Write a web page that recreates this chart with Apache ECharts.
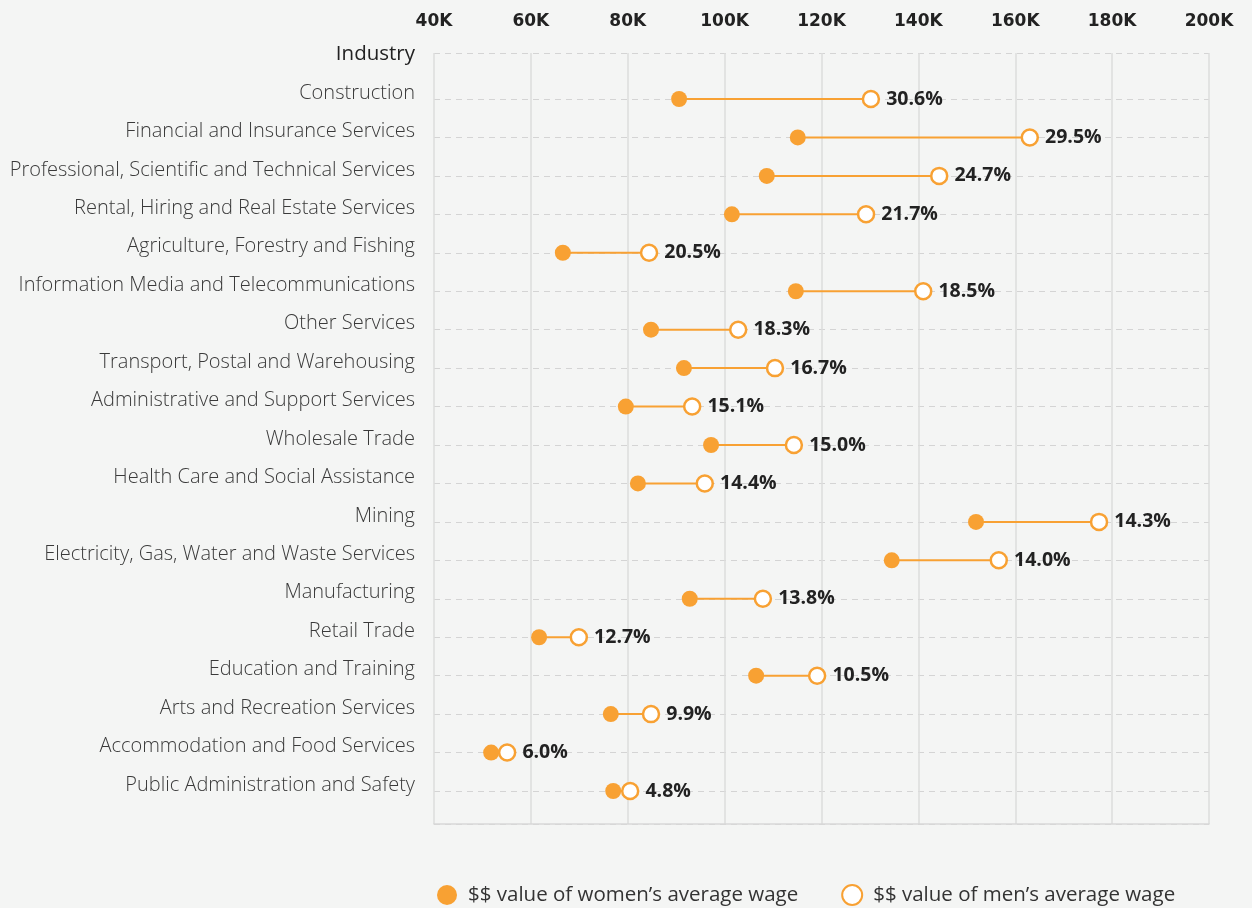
<!DOCTYPE html>
<html>
	<head>
		<meta charset="utf-8" />
		<title>Gender pay gap by industry</title>
		<style type="text/css">
			html, body {margin:0;padding:0;background:#f4f5f4;}
			#chart {width:1252px;height:908px;}
		</style>
	</head>
	<body>
		<div id="chart"></div>
		<script src="https://cdn.jsdelivr.net/npm/echarts@6/dist/echarts.min.js"></script>
		<script type="text/javascript">
			// categories, top to bottom
			const industries = [
				'Construction',
				'Financial and Insurance Services',
				'Professional, Scientific and Technical Services',
				'Rental, Hiring and Real Estate Services',
				'Agriculture, Forestry and Fishing',
				'Information Media and Telecommunications',
				'Other Services',
				'Transport, Postal and Warehousing',
				'Administrative and Support Services',
				'Wholesale Trade',
				'Health Care and Social Assistance',
				'Mining',
				'Electricity, Gas, Water and Waste Services',
				'Manufacturing',
				'Retail Trade',
				'Education and Training',
				'Arts and Recreation Services',
				'Accommodation and Food Services',
				'Public Administration and Safety'
			];
			// average wage, thousands of dollars
			const women = [90.6, 115.1, 108.7, 101.5, 66.6, 114.7, 84.8, 91.6, 79.6, 97.2, 82.1, 151.9, 134.5, 92.8, 61.7, 106.5, 76.5, 51.8, 77.0];
			const men = [130.2, 163.0, 144.3, 129.2, 84.4, 141.0, 102.8, 110.4, 93.3, 114.3, 95.9, 177.3, 156.6, 107.9, 69.9, 119.1, 84.8, 55.1, 80.5];
			const gaps = ['30.6%', '29.5%', '24.7%', '21.7%', '20.5%', '18.5%', '18.3%', '16.7%', '15.1%', '15.0%', '14.4%', '14.3%', '14.0%', '13.8%', '12.7%', '10.5%', '9.9%', '6.0%', '4.8%'];
			const xTicks = [40, 60, 80, 100, 120, 140, 160, 180, 200];

			const orange = '#f8a133';
			const font = '"Open Sans", "Noto Sans", sans-serif';

			const chart = echarts.init(document.getElementById('chart'));
			const opt = {
				backgroundColor: '#f4f5f4',
				textStyle: {fontFamily: font},
				title: {
					text: 'Industry',
					right: 837,
					top: 44,
					padding: 0,
					textStyle: {fontFamily: font, fontSize: 20.5, fontWeight: 'normal', color: '#222'}
				},
				legend: {
					top: 884,
					left: 437,
					padding: 0,
					itemWidth: 20,
					itemHeight: 20,
					itemGap: 43,
					icon: 'circle',
					textStyle: {fontFamily: font, fontSize: 20.5, color: '#333', padding: [0, 0, 0, 6]},
					data: ['$$ value of women’s average wage', '$$ value of men’s average wage']
				},
				grid: [
					// frame grid: vertical lines, top dashed edge, bottom edge
					{left: 434, right: 43, top: 53, bottom: 84},
					// data grid: one row per industry
					{left: 434, right: 43, top: 99, bottom: 117}
				],
				xAxis: [{
					gridIndex: 0,
					type: 'value',
					position: 'top',
					min: xTicks[0],
					max: xTicks[xTicks.length - 1],
					interval: xTicks[1] - xTicks[0],
					axisLine: {show: false},
					axisTick: {show: false},
					axisLabel: {
						margin: 23,
						fontFamily: '"DejaVu Sans", sans-serif',
						fontSize: 17,
						fontWeight: 'bold',
						color: '#222',
						formatter: v => v + 'K'
					},
					splitLine: {lineStyle: {color: '#dcdcdc', width: 1.5}}
				}, {
					gridIndex: 0,
					type: 'value',
					position: 'bottom',
					min: xTicks[0],
					max: xTicks[xTicks.length - 1],
					axisLine: {show: true, lineStyle: {color: '#d8d8d8', width: 1.5}},
					axisTick: {show: false},
					axisLabel: {show: false},
					splitLine: {show: false}
				}, {
					gridIndex: 1,
					type: 'value',
					min: xTicks[0],
					max: xTicks[xTicks.length - 1],
					show: false
				}],
				yAxis: [{
					gridIndex: 0,
					type: 'value',
					min: 0,
					max: 1,
					interval: 1,
					axisLine: {show: false},
					axisTick: {show: false},
					axisLabel: {show: false},
					splitLine: {lineStyle: {color: '#d4d4d4', type: [6, 5], width: 1}}
				}, {
					gridIndex: 1,
					type: 'category',
					data: industries,
					inverse: true,
					boundaryGap: false,
					axisLine: {show: false},
					axisTick: {show: false},
					axisLabel: {
						interval: 0,
						margin: 19,
						verticalAlign: 'bottom',
						lineHeight: 12,
						fontFamily: font,
						fontSize: 20,
						fontWeight: 300,
						color: '#3a3a3a'
					},
					splitLine: {show: true, interval: 0, lineStyle: {color: '#d4d4d4', type: [6, 5], width: 1}}
				}],
				series: [{
					type: 'custom',
					xAxisIndex: 2,
					yAxisIndex: 1,
					silent: true,
					z: 2,
					encode: {x: [0, 1], y: 2},
					data: industries.map((n, i) => [women[i], men[i], i]),
					renderItem: (params, api) => {
						const p1 = api.coord([api.value(0), api.value(2)]);
						const p2 = api.coord([api.value(1), api.value(2)]);
						return {
							type: 'line',
							shape: {x1: p1[0], y1: p1[1], x2: p2[0], y2: p2[1]},
							style: {stroke: orange, lineWidth: 2}
						};
					}
				}, {
					name: '$$ value of women’s average wage',
					type: 'scatter',
					xAxisIndex: 2,
					yAxisIndex: 1,
					z: 3,
					symbol: 'circle',
					symbolSize: 16,
					itemStyle: {color: orange, opacity: 1},
					data: industries.map((n, i) => [women[i], i])
				}, {
					name: '$$ value of men’s average wage',
					type: 'scatter',
					xAxisIndex: 2,
					yAxisIndex: 1,
					z: 4,
					symbol: 'circle',
					symbolSize: 16,
					itemStyle: {color: '#fff', borderColor: orange, borderWidth: 2.5, opacity: 1},
					label: {
						show: true,
						position: 'right',
						distance: 6,
						fontFamily: font,
						fontSize: 19.5,
						fontWeight: 'bold',
						color: '#222',
						formatter: p => gaps[p.dataIndex]
					},
					data: industries.map((n, i) => [men[i], i])
				}]
			};
			chart.setOption(opt);
		</script>
	</body>
</html>
